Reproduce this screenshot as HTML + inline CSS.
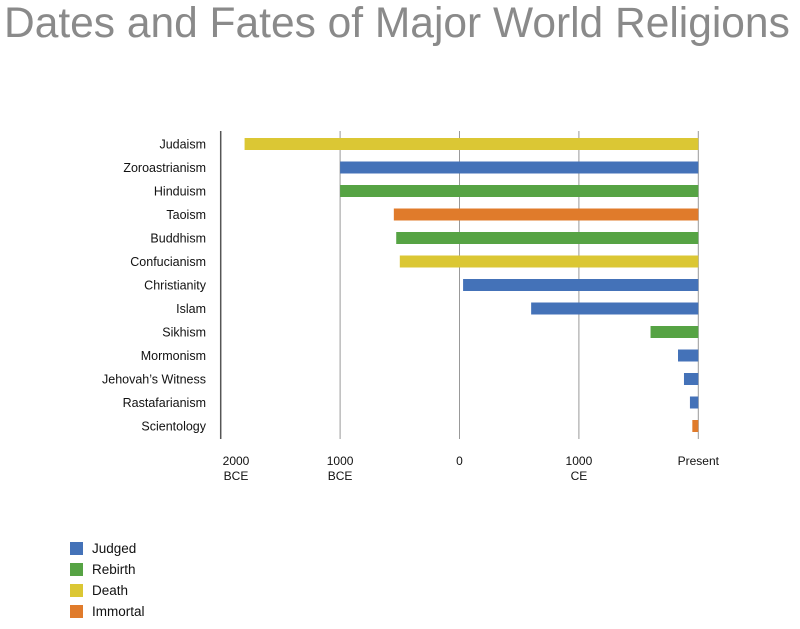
<!DOCTYPE html>
<html><head><meta charset="utf-8"><style>
body{margin:0;background:#fff;width:800px;height:624px;overflow:hidden;font-family:"Liberation Sans",sans-serif}
</style></head><body>
<svg width="800" height="624">
<text x="4" y="37" font-size="42.5" fill="#8a8a8a" font-family="Liberation Sans, sans-serif">Dates and Fates of Major World Religions</text>
<g id="grid"></g><g id="bars"></g><g id="labels"></g><g id="ticks"></g><g id="legend"></g>
</svg>
<script>
const religions=["Judaism","Zoroastrianism","Hinduism","Taoism","Buddhism","Confucianism","Christianity","Islam","Sikhism","Mormonism","Jehovah’s Witness","Rastafarianism","Scientology"];
const startYears=[-1800,-1000,-1000,-550,-530,-500,30,600,1600,1830,1880,1930,1950];
const fates=["Death","Judged","Rebirth","Immortal","Rebirth","Death","Judged","Judged","Rebirth","Judged","Judged","Judged","Immortal"];
const tickYears=[-2000,-1000,0,1000,2000];
const tickLabels=[["2000","BCE"],["1000","BCE"],["0"],["1000","CE"],["Present"]];
const fateNames=["Judged","Rebirth","Death","Immortal"];
const colors={Judged:"#4472b8",Rebirth:"#56a344",Death:"#dbc734",Immortal:"#e07b2b"};
const NS="http://www.w3.org/2000/svg";
const x=v=>459.5+v*0.1194;
const y=i=>144+i*23.5;
function mk(tag,attrs,parent,txt){const e=document.createElementNS(NS,tag);for(const k in attrs)e.setAttribute(k,attrs[k]);if(txt!==undefined)e.textContent=txt;document.getElementById(parent).appendChild(e);return e;}
tickYears.forEach((t,i)=>{
  const g=mk("line",{x1:x(t),x2:x(t),y1:131,y2:439,stroke:i==0?"#555":"#999","stroke-width":i==0?1.5:1},"grid");
  
  
  tickLabels[i].forEach((s,j)=>{
    const tx=mk("text",{x:(i==0?236:x(t)),y:465+j*15,"font-size":12,"text-anchor":"middle",fill:"#111"},"ticks",s);
    
    
  });
});
religions.forEach((r,i)=>{
  const b=mk("rect",{x:x(startYears[i]),y:y(i)-6,width:x(2000)-x(startYears[i]),height:12,fill:colors[fates[i]]},"bars");
  
  
  const l=mk("text",{x:206,y:y(i)+4.5,"font-size":12.5,"text-anchor":"end",fill:"#111"},"labels",r);
  
  
});
fateNames.forEach((f,i)=>{
  const r=mk("rect",{x:70,y:542+i*21,width:13,height:13,fill:colors[f]},"legend");
  
  
  const t=mk("text",{x:92,y:553+i*21,"font-size":13.5,fill:"#111"},"legend",f);
  
  
});
</script>
</body></html>
